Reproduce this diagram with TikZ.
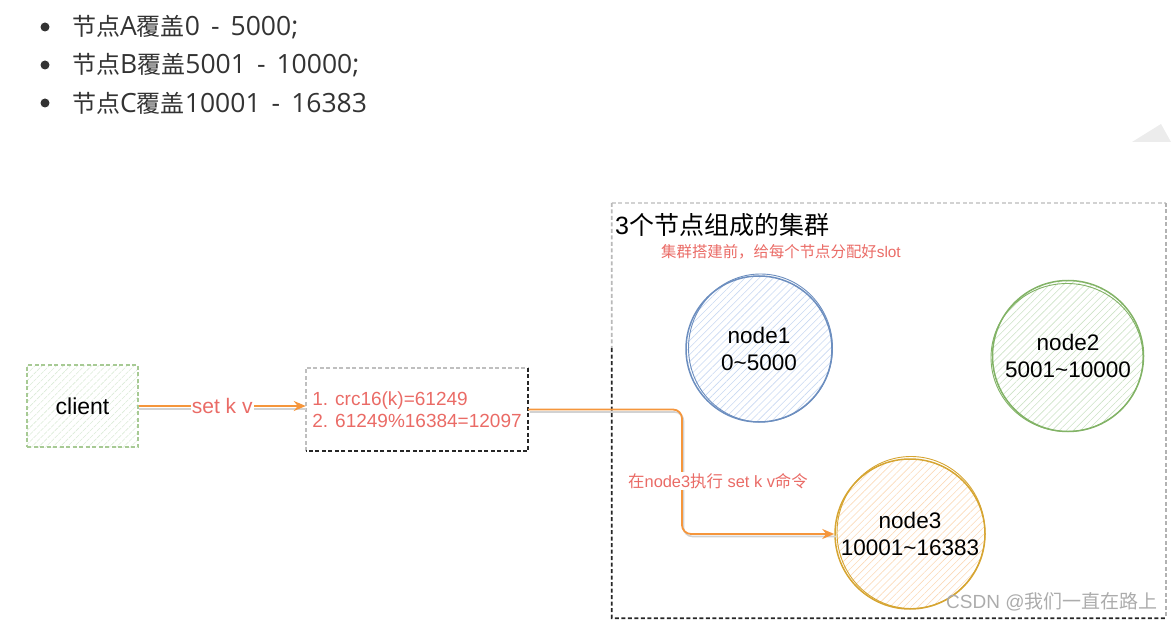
\documentclass[tikz,border=0pt]{standalone}
\usepackage{fontspec}
\setmainfont{Liberation Sans}
\newfontfamily\cjk{Noto Sans CJK SC}
\newfontfamily\opensans[WordSpace=1.6]{Open Sans}
\usetikzlibrary{arrows.meta,positioning,calc,patterns.meta}
\definecolor{salmon}{HTML}{EA6B66}
\definecolor{arr}{HTML}{F5963C}
\definecolor{nblue}{HTML}{6C8EBF}
\definecolor{nblueF}{HTML}{C8D8F2}
\definecolor{ngreen}{HTML}{82B366}
\definecolor{ngreenF}{HTML}{CCE2C6}
\definecolor{ngold}{HTML}{D6A532}
\definecolor{ngoldF}{HTML}{FBDAB8}
\definecolor{txt}{HTML}{333333}
\newcommand{\fsz}[2]{\fontsize{#1}{#2}\selectfont}
\newcommand{\lat}[1]{{\opensans\fsz{26.5}{28}#1}}

\begin{document}
\begin{tikzpicture}[x=1pt,y=-1pt,
  dsh/.style={dash pattern=on 4pt off 2.5pt,line width=1.8pt},
  hatch/.style={pattern={Lines[angle=45,distance=5pt,line width=0.6pt]},pattern color=#1},
  slot/.style={circle,line width=1.5pt,align=center,inner sep=0pt,
               font=\fsz{22.5}{27}},
  lbl/.style={fill=white,text=salmon,inner sep=1pt},
  flow/.style={arr,line width=1.8pt,-{Stealth[length=12pt,width=10pt]}},
  shade/.style={gray!35,line width=1.6pt},
  item/.style={anchor=west,inner sep=0pt,text=txt,font=\cjk\fsz{24}{28}}]

\useasboundingbox (0,0) rectangle (1172,620);

% bullet list
\node[circle,fill=txt,inner sep=0pt,minimum size=9pt] (d1) at (45,27) {};
\node[circle,fill=txt,inner sep=0pt,minimum size=9pt] (d2) at (45,65) {};
\node[circle,fill=txt,inner sep=0pt,minimum size=9pt] (d3) at (45,103) {};
\node[item] (b1) at (72,27) {节点\lat{A}覆盖\lat{0 - 5000;}};
\node[item] (b2) at (72,65) {节点\lat{B}覆盖\lat{5001 - 10000;}};
\node[item] (b3) at (72,103) {节点\lat{C}覆盖\lat{10001 - 16383}};
\fill[gray!15] (1132,142) -- (1161,124) -- (1171,142) -- cycle;

% cluster frame
\node[minimum width=554pt,minimum height=415pt,inner sep=0pt] (cluster) at (889,410.5) {};
\coordinate (lmid) at ($(cluster.north west)!0.35!(cluster.south west)$);
\draw[dsh,gray!35] (cluster.north west) -- (cluster.north east);
\draw[dsh,gray!60] (cluster.north east) -- (cluster.south east);
\draw[dsh,gray!55] (cluster.north west) -- (lmid);
\draw[dsh,black!85] (lmid) -- (cluster.south west) -- (cluster.south east);
\node[anchor=west,inner sep=0pt,font=\fsz{25}{30}] (title) at (615,225)
   {3{\cjk 个节点组成的集群}};
\node[anchor=west,inner sep=0pt,text=salmon,font=\fsz{15.4}{18}] (sub) at (661,252)
   {{\cjk 集群搭建前，给每个节点分配好}slot};

% slot nodes
\node[slot,draw=nblue,hatch=nblueF,minimum size=146pt] (n1) at (759,349) {node1\\0\textasciitilde 5000};
\node[slot,draw=ngreen,hatch=ngreenF,minimum size=151pt] (n2) at (1068,356) {node2\\5001\textasciitilde 10000};
\node[slot,draw=ngold,hatch=ngoldF,minimum size=150pt] (n3) at (910,534) {node3\\10001\textasciitilde 16383};
\draw[nblue,line width=0.9pt] ($(n1.center)+(1.5,-1)$) circle[x radius=72,y radius=74];
\draw[ngreen,line width=0.9pt] ($(n2.center)+(-1,1.5)$) circle[x radius=76,y radius=74];
\draw[ngold,line width=0.9pt] ($(n3.center)+(1,-1.5)$) circle[x radius=74,y radius=76];

% client and slot calculation
\node[draw=ngreen!70,dsh,line width=1.4pt,hatch=ngreenF!70,minimum width=111pt,minimum height=82pt,
      font=\fsz{23}{27}] (client) at (82.5,406) {client};
\node[minimum width=222pt,minimum height=83pt,align=left,text=salmon,inner sep=2pt,
      font=\fsz{19}{22}] (calc) at (417,409.5) {1. crc16(k)=61249\\2. 61249\%16384=12097};
\draw[dsh,gray!50] (calc.south west) -- (calc.north west) -- (calc.north east);
\draw[dsh,black!85] (calc.north east) -- (calc.south east) -- (calc.south west);

% requests
\coordinate (elbow) at (682,412);
\draw[shade,transform canvas={yshift=-3pt}] (client.east) -- (client.east -| calc.west);
\draw[flow] (client.east) -- (client.east -| calc.west) node[midway,lbl,font=\fsz{21}{24}] (req) {set k v};
\draw[shade,rounded corners=9pt,transform canvas={shift={(1.5pt,-2.5pt)}}]
   (calc.east) -- (calc.east -| elbow) |- (n3.west);
\draw[flow,rounded corners=9pt] (calc.east) -- (calc.east -| elbow) |- (n3.west);
\node[lbl,font=\fsz{16.4}{19}] (cmd) at (718,481) {{\cjk 在}node3{\cjk 执行} set k v{\cjk 命令}};

\node[anchor=west,inner sep=0pt,text=gray!65,font=\fsz{19}{23}] (wm) at (946,602)
   {CSDN @{\cjk 我们一直在路上}};
\end{tikzpicture}
\end{document}
